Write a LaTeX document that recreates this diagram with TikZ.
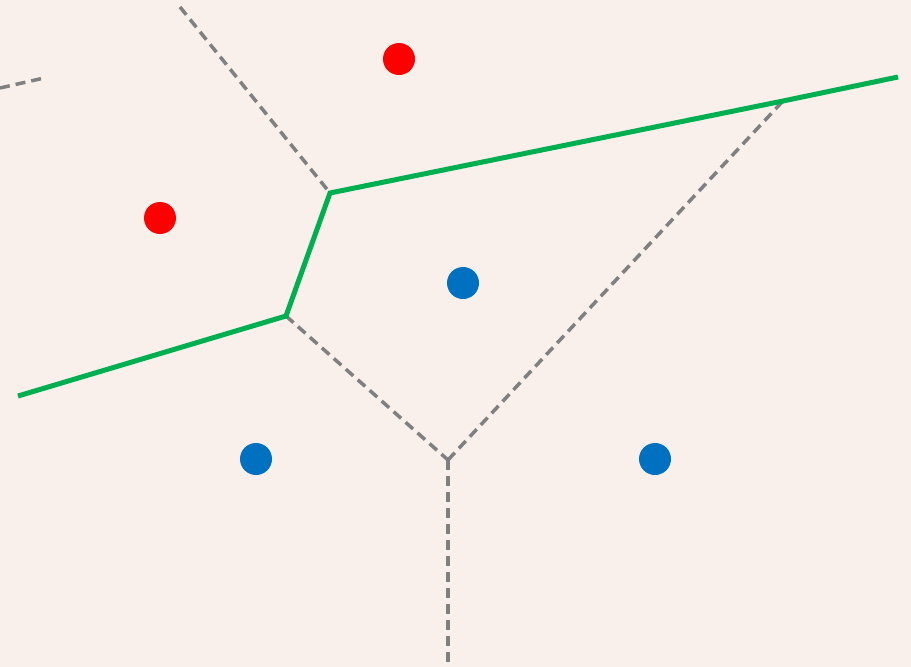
\documentclass[tikz,border=0pt]{standalone}
\usepackage{fontspec,tikz}

\definecolor{paper}{RGB}{249,239,235}
\definecolor{siteRed}{RGB}{255,0,0}
\definecolor{siteBlue}{RGB}{0,112,192}
\definecolor{edgeGray}{RGB}{128,128,128}
\definecolor{borderGreen}{RGB}{0,176,80}

\tikzset{
  site/.style={circle,inner sep=0pt,minimum size=32pt},
  cell/.style={draw=edgeGray,line width=3.5pt,dash pattern=on 10pt off 6pt},
  border/.style={draw=borderGreen,line width=5pt,line join=miter}
}

\begin{document}
\begin{tikzpicture}[x=1pt,y=-1pt]
\path[use as bounding box,fill=paper] (0,0) rectangle (911.0,667.0);
\node[site,fill=siteRed] (r1) at (399,59) {};
\node[site,fill=siteRed] (r2) at (160,218) {};
\node[site,fill=siteBlue] (b1) at (463,283) {};
\node[site,fill=siteBlue] (b2) at (256,459) {};
\node[site,fill=siteBlue] (b3) at (655,459) {};
\coordinate (v1) at (330,193);
\coordinate (v2) at (286,316);
\coordinate (v3) at (448,460);
\coordinate (v4) at (783,101);
\coordinate (top) at (180,7);
\coordinate (farleft) at (0,88);
\coordinate (stub) at (44,78);
\coordinate (bottom) at (448,662);
\coordinate (left) at (18,396);
\coordinate (right) at (898,77);
\draw[cell] (top) -- (v1);
\draw[cell] (farleft) -- (stub);
\draw[cell] (v2) -- (v3);
\draw[cell] (v3) -- (v4);
\draw[cell] (v3) -- (bottom);
\draw[border] (right) -- (v4) -- (v1) -- (v2) -- (left);
\end{tikzpicture}
\end{document}
